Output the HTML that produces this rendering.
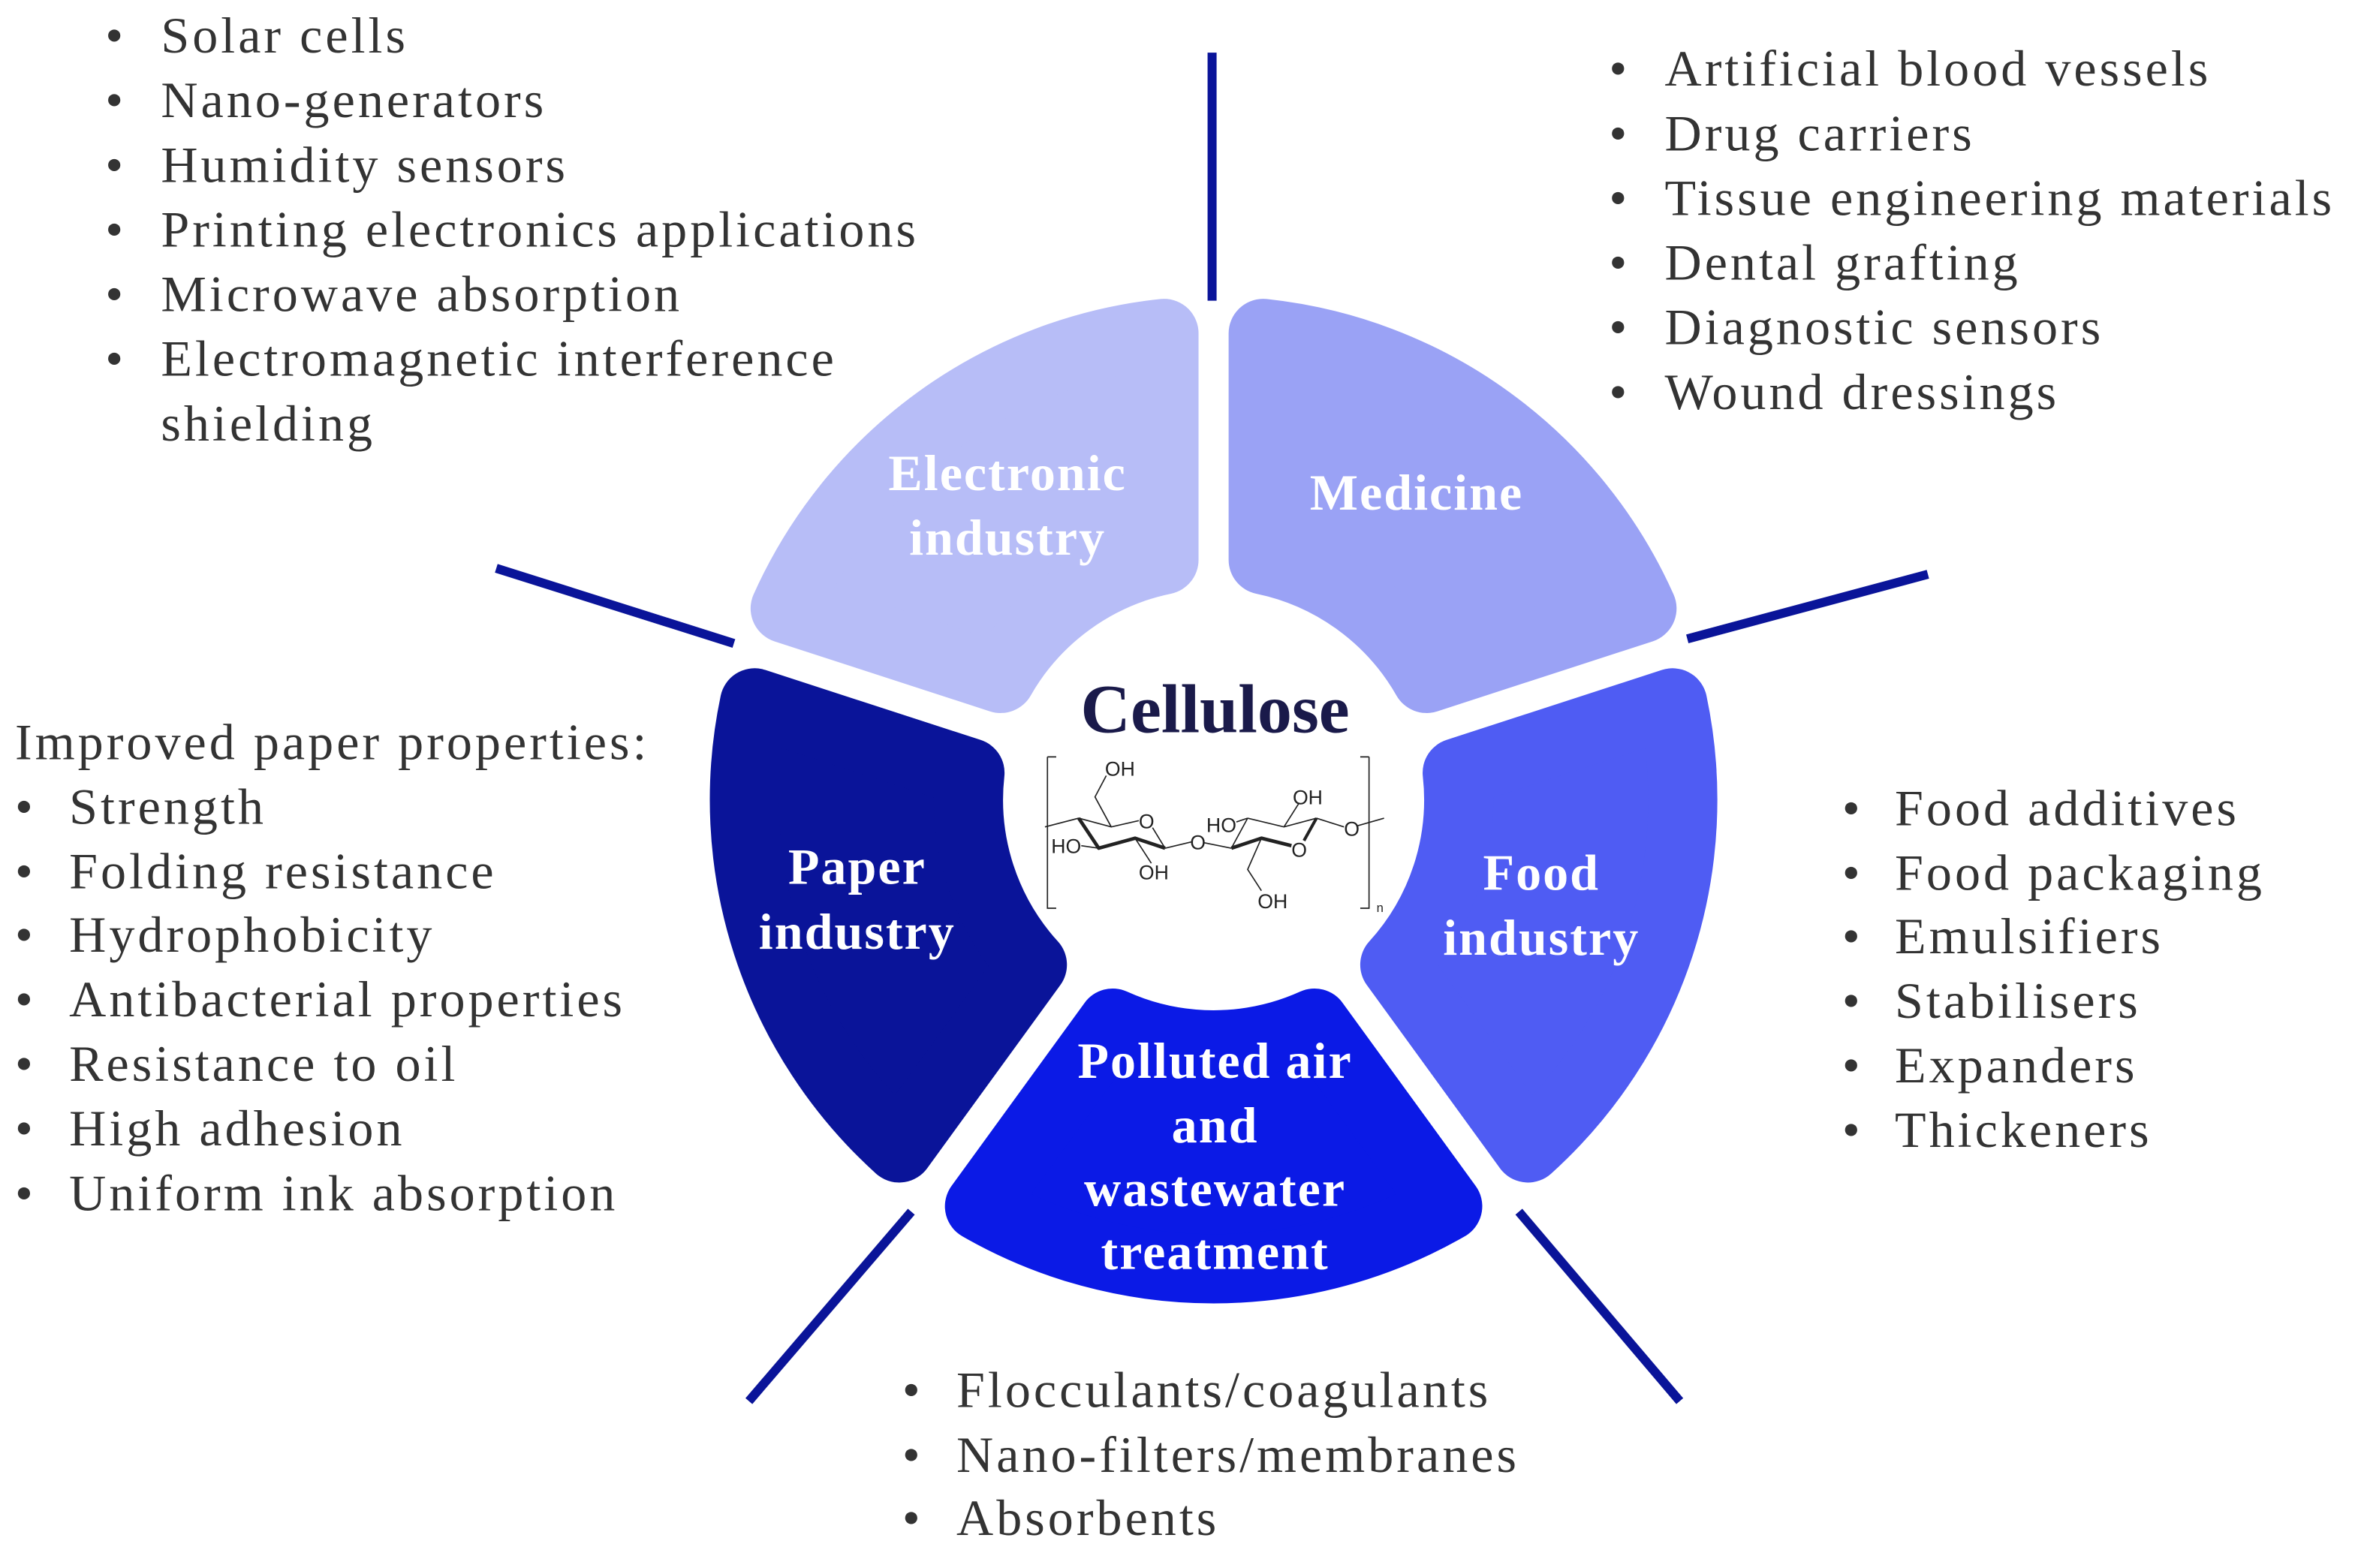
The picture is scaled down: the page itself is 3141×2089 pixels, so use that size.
<!DOCTYPE html>
<html><head><meta charset="utf-8"><style>
html,body{margin:0;padding:0;background:#fff;}
svg{display:block;}
.t{font-family:"Liberation Serif",serif;font-size:34px;letter-spacing:2px;fill:#333;}
.l{font-family:"Liberation Serif",serif;font-size:34px;font-weight:bold;letter-spacing:1px;fill:#fff;text-anchor:middle;}
.m{font-family:"Liberation Sans",sans-serif;font-size:80px;fill:#222;}
</style></head><body>
<svg id="s" width="3141" height="2089" viewBox="0 0 1568 1043" preserveAspectRatio="none" xmlns="http://www.w3.org/2000/svg">
<g id="segs"></g>
<g stroke="#0a1499" stroke-width="6" stroke-linecap="butt">
<line x1="806" y1="35" x2="806" y2="200"/>
<line x1="330" y1="378" x2="488" y2="428"/>
<line x1="1122" y1="425" x2="1282" y2="382"/>
<line x1="498" y1="932" x2="606" y2="806"/>
<line x1="1010" y1="806" x2="1117" y2="932"/>
</g>
<text class="l" x="670" y="326">Electronic</text>
<text class="l" x="670" y="369">industry</text>
<text class="l" x="942" y="339">Medicine</text>
<text class="l" x="570" y="588">Paper</text>
<text class="l" x="570" y="631">industry</text>
<text class="l" x="1025" y="592">Food</text>
<text class="l" x="1025" y="635">industry</text>
<text class="l" x="808" y="717">Polluted air</text>
<text class="l" x="808" y="760">and</text>
<text class="l" x="808" y="802">wastewater</text>
<text class="l" x="808" y="844">treatment</text>
<text x="808" y="487" text-anchor="middle" style="font-family:'Liberation Serif',serif;font-size:46px;font-weight:bold;fill:#1a1a4a">Cellulose</text>
<g transform="scale(0.4993) translate(1360,980) scale(0.3333)" fill="none" stroke="#222" stroke-width="5">
<path d="M105 85 H140 M105 85 V690 H140"/>
<path d="M1390 85 H1355 M1390 85 V690 H1355"/>
<path d="M95 365 L230 330 L360 365 L470 340 M525 368 L575 450 M455 410 L520 510 M360 365 L295 245 L340 160 M240 440 L310 450 M575 450 L680 425 M730 428 L840 450 M905 330 L840 450 M1180 330 L1050 365 L905 330 M860 345 L905 330 M1050 365 L1110 270 M960 410 L905 535 L960 620 M1180 330 L1290 365 M1345 360 L1450 330"/>
<path d="M575 450 L455 410 L310 450 L230 330" stroke-width="14" stroke-linejoin="round"/>
<path d="M840 450 L960 410 L1080 440" stroke-width="14" stroke-linejoin="round"/>
<path d="M1130 420 L1180 330" stroke-width="12"/>
<g fill="#222" stroke="none">
<text class="m" x="470" y="370">O</text>
<text class="m" x="120" y="470">HO</text>
<text class="m" x="470" y="575">OH</text>
<text class="m" x="335" y="160">OH</text>
<text class="m" x="675" y="455">O</text>
<text class="m" x="1080" y="485">O</text>
<text class="m" x="740" y="385">HO</text>
<text class="m" x="1085" y="275">OH</text>
<text class="m" x="945" y="690">OH</text>
<text class="m" x="1290" y="400">O</text>
<text x="1420" y="705" style="font-family:'Liberation Sans',sans-serif;font-size:50px">n</text>
</g>
</g>
<g class="t">
<text x="70" y="35">•</text><text x="107" y="35">Solar cells</text>
<text x="70" y="78">•</text><text x="107" y="78">Nano-generators</text>
<text x="70" y="121">•</text><text x="107" y="121">Humidity sensors</text>
<text x="70" y="164">•</text><text x="107" y="164">Printing electronics applications</text>
<text x="70" y="207">•</text><text x="107" y="207">Microwave absorption</text>
<text x="70" y="250">•</text><text x="107" y="250">Electromagnetic interference</text>
<text x="107" y="293">shielding</text>

<text x="1070" y="57">•</text><text x="1107" y="57">Artificial blood vessels</text>
<text x="1070" y="100">•</text><text x="1107" y="100">Drug carriers</text>
<text x="1070" y="143">•</text><text x="1107" y="143">Tissue engineering materials</text>
<text x="1070" y="186">•</text><text x="1107" y="186">Dental grafting</text>
<text x="1070" y="229">•</text><text x="1107" y="229">Diagnostic sensors</text>
<text x="1070" y="272">•</text><text x="1107" y="272">Wound dressings</text>

<text x="10" y="505">Improved paper properties:</text>
<text x="10" y="548">•</text><text x="46" y="548">Strength</text>
<text x="10" y="591">•</text><text x="46" y="591">Folding resistance</text>
<text x="10" y="633">•</text><text x="46" y="633">Hydrophobicity</text>
<text x="10" y="676">•</text><text x="46" y="676">Antibacterial properties</text>
<text x="10" y="719">•</text><text x="46" y="719">Resistance to oil</text>
<text x="10" y="762">•</text><text x="46" y="762">High adhesion</text>
<text x="10" y="805">•</text><text x="46" y="805">Uniform ink absorption</text>

<text x="1225" y="549">•</text><text x="1260" y="549">Food additives</text>
<text x="1225" y="592">•</text><text x="1260" y="592">Food packaging</text>
<text x="1225" y="634">•</text><text x="1260" y="634">Emulsifiers</text>
<text x="1225" y="677">•</text><text x="1260" y="677">Stabilisers</text>
<text x="1225" y="720">•</text><text x="1260" y="720">Expanders</text>
<text x="1225" y="763">•</text><text x="1260" y="763">Thickeners</text>

<text x="600" y="936">•</text><text x="636" y="936">Flocculants/coagulants</text>
<text x="600" y="979">•</text><text x="636" y="979">Nano-filters/membranes</text>
<text x="600" y="1021">•</text><text x="636" y="1021">Absorbents</text>
</g>
</svg>
<script>
(function(){
var cx=807,cy=532,Ro=312,Ri=163,d=33;
var segs=[[-162,-90,"#b7bdf7"],[-90,-18,"#9aa2f5"],[-18,54,"#4f5cf3"],[54,126,"#0b1ae6"],[126,198,"#0a1499"]];
var g=document.getElementById("segs"),h="";
function P(r,a){a=a*Math.PI/180;return (cx+r*Math.cos(a)).toFixed(2)+" "+(cy+r*Math.sin(a)).toFixed(2);}
segs.forEach(function(s){
var ao=Math.asin(d/Ro)*180/Math.PI, ai=Math.asin(d/Ri)*180/Math.PI;
var p="M"+P(Ro,s[0]+ao)+" A"+Ro+" "+Ro+" 0 0 1 "+P(Ro,s[1]-ao)+" L"+P(Ri,s[1]-ai)+" A"+Ri+" "+Ri+" 0 0 0 "+P(Ri,s[0]+ai)+" Z";
h+='<path d="'+p+'" fill="'+s[2]+'" stroke="'+s[2]+'" stroke-width="46" stroke-linejoin="round"/>';
});
g.innerHTML=h;
})();
</script>
</body></html>
